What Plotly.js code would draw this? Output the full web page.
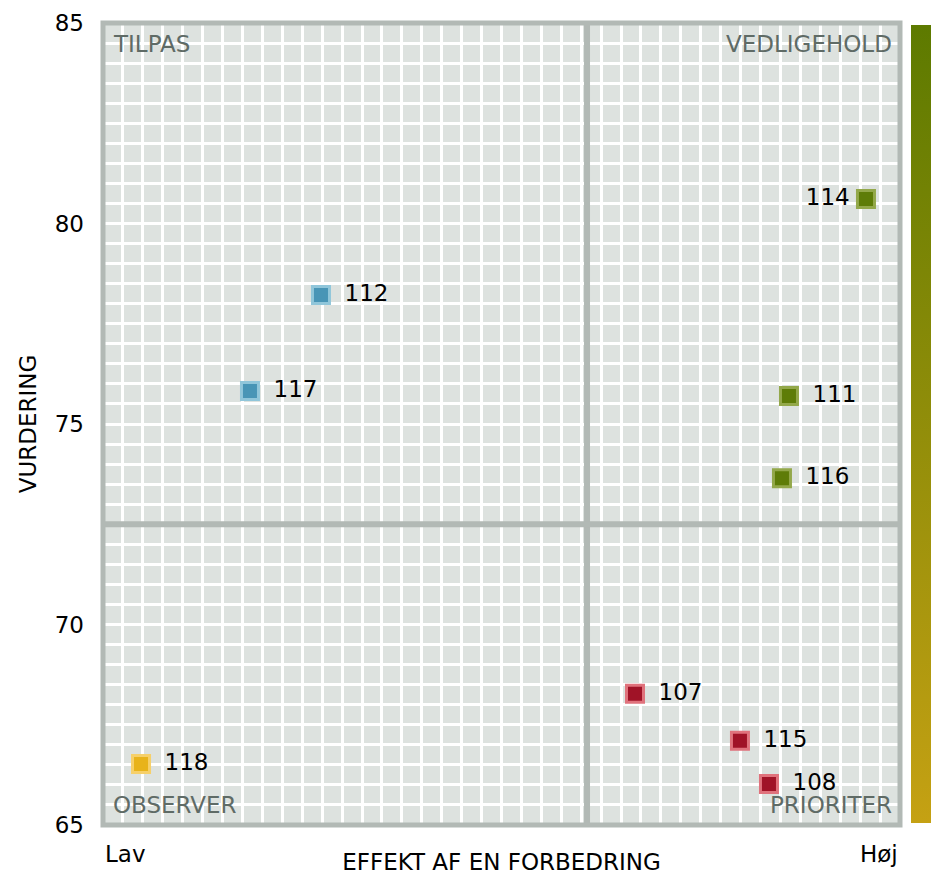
<!DOCTYPE html>
<html>
<head>
<meta charset="utf-8">
<script src="https://cdn.plot.ly/plotly-3.0.1.min.js"></script>
<style>html,body{margin:0;padding:0;background:#fff;}#chart{width:931px;height:877px;}</style>
</head>
<body>
<div id="chart"></div>
<script>
// Data
const ids = ["112", "117", "114", "111", "116", "107", "115", "108", "118"];
const effekt = [27.35, 18.44, 95.73, 86.07, 85.19, 66.75, 79.92, 83.56, 4.77];
const vurdering = [78.22, 75.82, 80.61, 75.70, 73.65, 68.27, 67.10, 66.02, 66.52];
const quadrant = ["TILPAS", "TILPAS", "VEDLIGEHOLD", "VEDLIGEHOLD", "VEDLIGEHOLD", "PRIORITER", "PRIORITER", "PRIORITER", "OBSERVER"];
const labelSide = ["middle right", "middle right", "middle left", "middle right", "middle right", "middle right", "middle right", "middle right", "middle right"];
const quadrantNames = ["TILPAS", "VEDLIGEHOLD", "OBSERVER", "PRIORITER"];
const quadrantFill = {TILPAS: "#4895b6", VEDLIGEHOLD: "#5e7c08", PRIORITER: "#a01327", OBSERVER: "#e8b31a"};
const quadrantEdge = {TILPAS: "#90c6da", VEDLIGEHOLD: "#93a84a", PRIORITER: "#e0727c", OBSERVER: "#f6d06a"};
const xMid = 60.73;
const yMid = 72.5;
const xEndLabels = ["Lav", "Høj"];
const yTicks = [65, 70, 75, 80, 85];

const FONT = "DejaVu Sans, Verdana, sans-serif";
const FS = 23;
const gridBg = "#dde2df";
const frameCol = "#b2b9b5";
const qLabelCol = "#5f6b66";

const points = {
  type: "scatter",
  mode: "markers+text",
  x: effekt,
  y: vurdering,
  text: ids.map((t, i) => labelSide[i] === "middle left" ? t + "\u2009" : " \u2009" + t),
  textposition: labelSide,
  textfont: {family: FONT, size: FS, color: "#000"},
  marker: {
    symbol: "square",
    size: 17,
    color: quadrant.map(q => quadrantFill[q]),
    line: {width: 3, color: quadrant.map(q => quadrantEdge[q])}
  },
  hoverinfo: "none",
  showlegend: false,
  cliponaxis: false
};

const scaleTrace = {
  type: "scatter",
  mode: "markers",
  x: [50], y: [75],
  marker: {
    color: [0], cmin: 0, cmax: 1, opacity: 0, size: 1,
    colorscale: [[0, "#c5a113"], [1, "#5d7a00"]],
    showscale: true,
    colorbar: {
      thickness: 20, thicknessmode: "pixels",
      len: 0.995, lenmode: "fraction",
      x: 1.0138, xanchor: "left", xref: "paper",
      y: 0.5, yanchor: "middle",
      outlinewidth: 0, showticklabels: false, ticks: "",
      xpad: 0, ypad: 0
    }
  },
  hoverinfo: "none",
  showlegend: false
};

const qPos = {
  TILPAS: {x: 0, y: 1, xanchor: "left", yanchor: "top", xshift: 8, yshift: -6},
  VEDLIGEHOLD: {x: 1, y: 1, xanchor: "right", yanchor: "top", xshift: -6, yshift: -6},
  OBSERVER: {x: 0, y: 0, xanchor: "left", yanchor: "bottom", xshift: 8, yshift: 5},
  PRIORITER: {x: 1, y: 0, xanchor: "right", yanchor: "bottom", xshift: -6, yshift: 5}
};

const annotations = quadrantNames.map(q => Object.assign({
  xref: "paper", yref: "paper", text: q, showarrow: false,
  font: {family: FONT, size: FS, color: qLabelCol}
}, qPos[q]));

annotations.push({xref: "paper", yref: "paper", x: 0, y: 0, xanchor: "left", yanchor: "top", yshift: -14,
  text: xEndLabels[0], showarrow: false, font: {family: FONT, size: FS, color: "#000"}});
annotations.push({xref: "paper", yref: "paper", x: 1, y: 0, xanchor: "right", yanchor: "top", yshift: -14,
  text: xEndLabels[1], showarrow: false, font: {family: FONT, size: FS, color: "#000"}});

const layout = {
  width: 931, height: 877,
  margin: {l: 103, r: 31, t: 23, b: 52, pad: 0, autoexpand: false},
  paper_bgcolor: "#ffffff",
  plot_bgcolor: gridBg,
  font: {family: FONT, size: FS, color: "#000"},
  xaxis: {
    range: [0, 100], dtick: 2.5, tick0: 0,
    showgrid: true, gridcolor: "#ffffff", gridwidth: 3,
    zeroline: false, showline: false,
    showticklabels: false, ticks: "",
    title: {text: "EFFEKT AF EN FORBEDRING", font: {family: FONT, size: FS, color: "#000"}, standoff: 28},
    fixedrange: true
  },
  yaxis: {
    range: [65, 85], dtick: 5, tick0: 65,
    showgrid: true, gridcolor: "#ffffff", gridwidth: 3,
    minor: {dtick: 0.5, tick0: 65, showgrid: true, gridcolor: "#ffffff", gridwidth: 3, ticks: ""},
    zeroline: false, showline: false,
    tickmode: "array", tickvals: yTicks, ticktext: yTicks.map(String),
    ticks: "", ticklabelstandoff: 18,
    tickfont: {family: FONT, size: FS, color: "#000"},
    title: {text: "VURDERING", font: {family: FONT, size: FS, color: "#000"}, standoff: 11},
    fixedrange: true
  },
  shapes: [
    {type: "line", xref: "x", yref: "paper", x0: xMid, x1: xMid, y0: 0, y1: 1,
     line: {color: frameCol, width: 6}, layer: "above"},
    {type: "line", xref: "paper", yref: "y", x0: 0, x1: 1, y0: yMid, y1: yMid,
     line: {color: frameCol, width: 6}, layer: "above"},
    {type: "rect", xref: "paper", yref: "paper", x0: 0, x1: 1, y0: 0, y1: 1,
     line: {color: frameCol, width: 5}, fillcolor: "rgba(0,0,0,0)", layer: "above"}
  ],
  annotations: annotations,
  hovermode: false,
  showlegend: false
};

Plotly.newPlot("chart", [points, scaleTrace], layout, {displayModeBar: false, staticPlot: true});
</script>
</body>
</html>
